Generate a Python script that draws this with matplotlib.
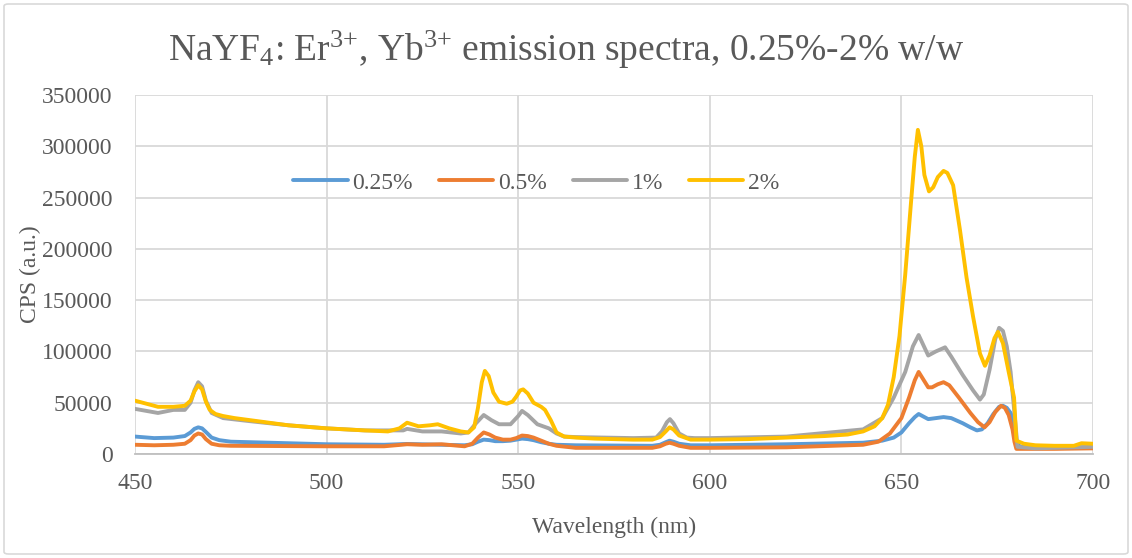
import matplotlib
matplotlib.use("Agg")
import matplotlib.pyplot as plt
from matplotlib.patches import FancyBboxPatch

# Emission spectra of NaYF4:Er3+,Yb3+ at four dopant concentrations
wl_025 = [450, 455, 460, 463, 464.5, 465.5, 466.5, 467.5, 468.5, 470, 472, 475, 480, 490,
          500, 515, 521, 530, 536, 538, 539.5, 541, 542.5, 544, 546, 548, 549.5, 551,
          552.5, 554, 556, 558, 560, 565, 585, 587, 588.5, 589.5, 590.5, 592, 595, 600,
          620, 640, 645, 648, 650, 652, 653.5, 654.5, 655.5, 657, 659, 661, 663, 666,
          668, 669.7, 671, 672.5, 674, 675.5, 676.5, 677.5, 678.5, 679.3, 679.8, 681,
          685, 690, 700]
cps_025 = [17000, 15500, 16000, 17500, 21000, 24500, 26000, 25000, 21500, 16000, 13500,
           12000, 11500, 10500, 9500, 9000, 9800, 9000, 8500, 9500, 12000, 14000, 13500,
           12500, 12500, 13000, 14000, 15000, 14500, 13500, 11500, 10000, 9000, 8500,
           8000, 9000, 11500, 13000, 12000, 10000, 8500, 8500, 9500, 11000, 13000, 16000,
           21000, 30000, 36000, 39000, 37000, 34000, 35000, 36000, 35000, 30000, 26000,
           23000, 24000, 30000, 39000, 46000, 47000, 45000, 40000, 32000, 12000, 7000,
           6500, 6500, 6500]

wl_05 = [450, 455, 460, 463, 464.5, 465.5, 466.5, 467.5, 468.5, 470, 472, 475, 500, 515,
         521, 525, 530, 536, 538, 539.5, 541, 542.5, 544, 546, 548, 549.5, 551, 552.5,
         554, 556, 558, 560, 565, 585, 587, 588.5, 589.5, 590.5, 592, 595, 600, 620, 640,
         644, 647, 650, 652, 653.5, 654.5, 655.5, 657, 658, 659.5, 661, 662.5, 665, 668,
         670, 671.7, 673, 674.5, 676, 677, 678, 679, 679.5, 680, 690, 700]
cps_05 = [9000, 8500, 9000, 10000, 13500, 18000, 20000, 19000, 14500, 10000, 8500, 8000,
          7500, 7500, 9500, 9000, 9500, 7500, 10000, 16000, 21000, 19000, 16000, 14000,
          14000, 15500, 18000, 17500, 16000, 13000, 10000, 8000, 6000, 6000, 7500, 10000,
          11000, 10000, 8000, 6000, 6000, 6500, 9000, 12000, 20000, 35000, 55000, 72000,
          80000, 74000, 65000, 65000, 68000, 70000, 67000, 55000, 40000, 31000, 26000,
          31000, 41000, 47000, 45000, 38000, 24000, 12000, 5000, 5000, 5500]

wl_1 = [450, 453, 456, 460, 463, 464.5, 465.5, 466.5, 467.5, 468.5, 470, 473, 480, 490,
        500, 510, 520, 521, 525, 530, 535, 537, 539, 541, 543, 545, 548, 550, 551, 552.5,
        555, 558, 560, 562, 565, 580, 586, 587.5, 588.8, 589.6, 590.5, 592, 594, 596,
        600, 620, 640, 645, 648, 651, 653, 654.5, 655.5, 657, 659, 661.4, 663, 666,
        668.7, 670.5, 671.5, 673, 674.5, 675.5, 676.5, 677.5, 678.5, 679.5, 680.3,
        685, 700]
cps_1 = [44000, 42000, 40000, 43000, 43000, 50000, 62000, 70000, 66000, 52000, 40000,
         35000, 32000, 28000, 25000, 23000, 23000, 24500, 22000, 22000, 20000, 21000,
         30000, 38000, 33000, 29000, 29000, 37000, 42000, 38000, 29000, 25000, 20000,
         17000, 16500, 15500, 16000, 22000, 31000, 34000, 30000, 20000, 16000, 15500,
         15500, 17000, 24000, 35000, 55000, 80000, 105000, 116000, 108000, 96000, 100000,
         104000, 95000, 77000, 62000, 53000, 58000, 82000, 112000, 123000, 120000, 105000,
         80000, 40000, 7000, 5500, 7000]

wl_2 = [450, 453, 456, 460, 463, 464.5, 465.5, 466.5, 467.5, 468.5, 469.5, 471, 473, 476,
        480, 490, 500, 510, 516, 519, 521, 524, 527, 529, 532, 535, 537, 538.5, 539.5,
        540.5, 541.3, 542.3, 543.5, 545, 547, 548.5, 549.5, 550.5, 551.3, 552.5, 554, 556,
        557, 558.5, 560, 562, 565, 570, 580, 585, 587, 588.5, 589.5, 590.5, 592, 595, 600,
        610, 620, 630, 636, 640, 643, 645, 646.5, 648, 649.5, 651, 652.5, 653.5, 654.3,
        655.2, 656, 657.2, 658.3, 659.5, 661, 662, 663.5, 665.3, 667, 668.7, 670.5,
        671.8, 673, 674.3, 675.2, 676.5, 678, 679.4, 680, 682, 685, 690, 695, 697, 700]
cps_2 = [52000, 49000, 46000, 46000, 47000, 52000, 61000, 67000, 63000, 51000, 43000,
         39000, 37000, 35000, 33000, 28000, 25000, 23000, 22000, 25000, 30500, 27000,
         28000, 29000, 25000, 22000, 21000, 26000, 45000, 70000, 81000, 76000, 60000,
         51000, 49000, 51000, 56000, 62000, 63000, 59000, 50000, 46000, 43000, 33000,
         21000, 17000, 16000, 15000, 14000, 14000, 16500, 22000, 26000, 24000, 18000, 14000,
         14000, 14500, 16000, 17500, 19000, 22000, 27000, 35000, 48000, 75000, 115000,
         175000, 245000, 290000, 316000, 300000, 272000, 256000, 260000, 270000, 276000,
         274000, 262000, 218000, 172000, 134000, 98000, 86000, 96000, 113000, 119000,
         108000, 80000, 55000, 13000, 10000, 8500, 8000, 8000, 10500, 10000]

series = [("0.25%", wl_025, cps_025, "#5B9BD5"),
          ("0.5%", wl_05, cps_05, "#ED7D31"),
          ("1%", wl_1, cps_1, "#A5A5A5"),
          ("2%", wl_2, cps_2, "#FFC000")]

x_ticks = [450, 500, 550, 600, 650, 700]
y_ticks = [0, 50000, 100000, 150000, 200000, 250000, 300000, 350000]

plt.rcParams["font.family"] = ["Liberation Serif", "DejaVu Serif"]
plt.rcParams["mathtext.default"] = "regular"
plt.rcParams["mathtext.fontset"] = "custom"
plt.rcParams["mathtext.rm"] = "Liberation Serif"
plt.rcParams["mathtext.it"] = "Liberation Serif:italic"
plt.rcParams["mathtext.bf"] = "Liberation Serif:bold"
text_color = "#595959"
grid_color = "#D9D9D9"

fig = plt.figure(figsize=(11.32, 5.58), dpi=100)
fig.patch.set_facecolor("white")
fig.patches.append(FancyBboxPatch((4 / 1132, 4 / 558), 1124 / 1132, 550 / 558,
                                  boxstyle="round,pad=0,rounding_size=0.004",
                                  transform=fig.transFigure, fill=False,
                                  edgecolor=grid_color, linewidth=1.2))

ax = fig.add_axes([135 / 1132, 1 - 454 / 558, (1093 - 135) / 1132, (454 - 95) / 558])

for label, wl, cps, color in series:
    ax.plot(wl, cps, color=color, linewidth=2.8, label=label,
            solid_joinstyle="round", solid_capstyle="round")

ax.set_xlim(450, 700)
ax.set_ylim(0, 350000)
ax.set_xticks(x_ticks)
ax.set_yticks(y_ticks)
ax.set_xticklabels([str(v) for v in x_ticks])
ax.set_yticklabels([str(v) for v in y_ticks])
ax.grid(True, color=grid_color, linewidth=1.3)
ax.set_axisbelow(True)
for side in ["top", "left", "right"]:
    ax.spines[side].set_visible(False)
ax.spines["bottom"].set_color("#BFBFBF")
ax.spines["bottom"].set_linewidth(1.3)
ax.tick_params(length=0, labelsize=17, colors=text_color)
ax.tick_params(axis="y", pad=16)
ax.tick_params(axis="x", pad=14)

ax.set_xlabel("Wavelength (nm)", fontsize=17, color=text_color, labelpad=16)
ax.set_ylabel("CPS (a.u.)", fontsize=17, color=text_color, labelpad=1)
fig.text(0.5, 1 - 50 / 558, "NaYF$_4$: Er$^{3{+}}$, Yb$^{3{+}}$ emission spectra, 0.25%-2% w/w",
         ha="center", va="center", fontsize=27, color=text_color)

leg = ax.legend(loc="center", bbox_to_anchor=(0.419, 0.755), ncol=4, frameon=False,
                fontsize=17, handlelength=2.3, handletextpad=0.2, columnspacing=1.1)
for t in leg.get_texts():
    t.set_color(text_color)

fig.savefig("out.png", dpi=100, facecolor="white")
